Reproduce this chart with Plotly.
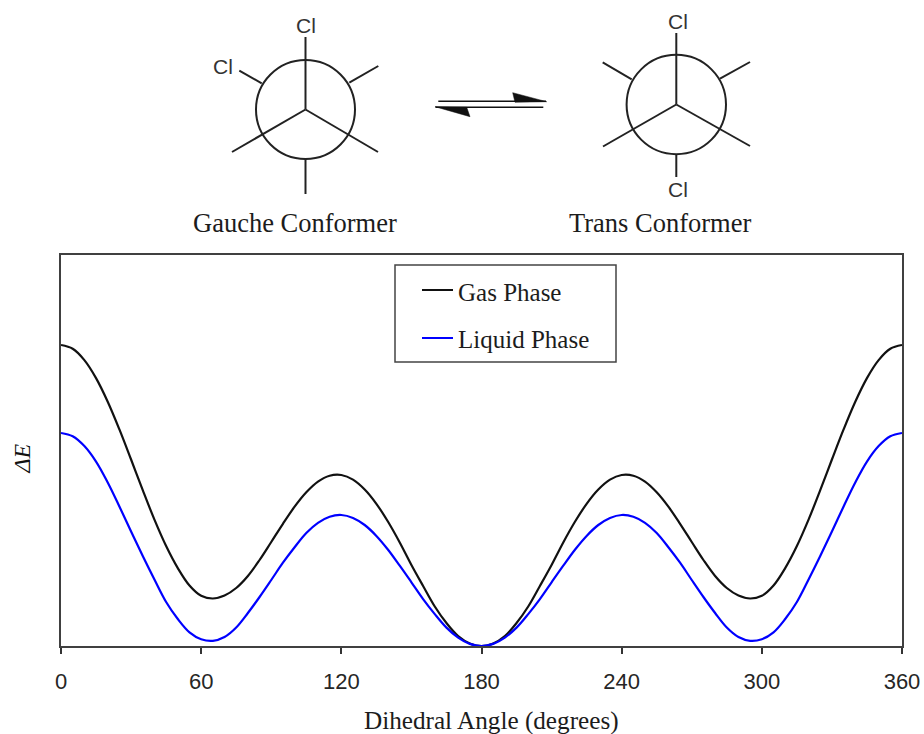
import plotly.graph_objects as go

W, H = 924, 734

# ---- chart data ----
angle = [0, 5, 10, 15, 20, 25, 30, 35, 40, 45, 50, 55, 60, 65, 70, 75, 80, 85, 90,
         95, 100, 105, 110, 115, 120, 125, 130, 135, 140, 145, 150, 155, 160, 165, 170, 175, 180,
         185, 190, 195, 200, 205, 210, 215, 220, 225, 230, 235, 240, 245, 250, 255, 260, 265, 270,
         275, 280, 285, 290, 295, 300, 305, 310, 315, 320, 325, 330, 335, 340, 345, 350, 355, 360]
gas_energy = [301, 297.2, 285.9, 267.9, 244.3, 216.6, 186.5, 155.8, 126.4, 100, 77.9, 60.5, 50.2, 47.5, 50.5, 58, 70, 86, 104,
              122.2, 139.3, 153.7, 164.4, 170.3, 171, 166.4, 156.5, 142.2, 124.2, 103.5, 81, 60, 39.5, 23, 10, 2.6, 0,
              2.6, 10, 23, 39.5, 60, 81, 103.5, 124.2, 142.2, 156.5, 166.4, 171, 170.3, 164.4, 153.7, 139.3, 122.2, 104,
              86, 70, 58, 50.5, 47.5, 50.2, 60.5, 77.9, 100, 126.4, 155.8, 186.5, 216.6, 244.3, 267.9, 285.9, 297.2, 301]
liquid_energy = [213, 209.7, 199.9, 184.4, 163.5, 139.5, 114.5, 90, 66.5, 44, 27, 13.7, 6.8, 5.2, 9, 18.5, 33, 49, 66,
                 83.3, 98.8, 113, 123.2, 129.3, 131, 128.1, 121, 110.1, 96.3, 80.3, 63.7, 46.9, 31.9, 18.4, 8.4, 2.1, 0,
                 2.1, 8.4, 18.4, 31.9, 46.9, 63.7, 80.3, 96.3, 110.1, 121, 128.1, 131, 129.3, 123.2, 113, 98.8, 83.3, 66,
                 49, 33, 18.5, 9, 5.2, 6.8, 13.7, 27, 44, 66.5, 90, 114.5, 139.5, 163.5, 184.4, 199.9, 209.7, 213]
tick_values = [0, 60, 120, 180, 240, 300, 360]
series_names = ["Gas Phase", "Liquid Phase"]
series_colors = ["#111111", "#0000ff"]

# ---- page layout, in pixels of the picture ----
PLOT_L, PLOT_R, PLOT_T, PLOT_B = 61, 902, 255, 646
SERIF = "Liberation Serif"
SANS = "Liberation Sans"
INK = "#1c1c1c"


def px(x):
    return x / W


def py(y):
    return 1 - y / H


def seg(x0, y0, x1, y1, color="#222222", width=2):
    return dict(type="line", xref="paper", yref="paper", x0=px(x0), y0=py(y0), x1=px(x1), y1=py(y1),
                line=dict(color=color, width=width), layer="above")


def note(x, y, text, size, family=SERIF, color=INK, angle=0, anchor="center"):
    return dict(xref="paper", yref="paper", x=px(x), y=py(y), text=text, showarrow=False, textangle=angle,
                xanchor=anchor, yanchor="middle", font=dict(family=family, size=size, color=color))


def newman(cx, cy, r, spokes, stubs):
    out = [dict(type="circle", xref="paper", yref="paper", x0=px(cx - r), x1=px(cx + r),
                y0=py(cy + r), y1=py(cy - r), line=dict(color="#222222", width=2))]
    for (x, y) in spokes:
        out.append(seg(cx, cy, x, y))
    for (a, b, c, d) in stubs:
        out.append(seg(a, b, c, d))
    return out


def triangle(pts):
    path = "M " + " L ".join(f"{px(x):.5f},{py(y):.5f}" for x, y in pts) + " Z"
    return dict(type="path", xref="paper", yref="paper", path=path, fillcolor="#111111",
                line=dict(color="#111111", width=0.5))


shapes = []
shapes += newman(305.5, 109.5, 49.5,
                 [(305.5, 37), (232, 152), (378, 152)],
                 [(305.5, 159, 305.5, 194), (261.7, 83.3, 239.3, 70.7), (349.3, 82.7, 378.3, 66)])
shapes += newman(676.3, 104.5, 49.7,
                 [(676.3, 33), (603, 146.5), (750, 146)],
                 [(676.3, 154, 676.3, 177), (631.7, 79.3, 602.7, 62.3), (720, 78.7, 750, 62)])
# equilibrium arrows
shapes += [seg(438.3, 101.3, 546, 101.3, "#111111", 1.5), seg(435.5, 107.3, 543.3, 107.3, "#111111", 1.5),
           triangle([(512.7, 92.7), (546.7, 101.7), (515, 102.3)]),
           triangle([(435, 106.7), (470, 116.7), (466.7, 107.3)])]
# legend box
LEG = (395, 265, 616, 362)
shapes.append(dict(type="rect", xref="paper", yref="paper", x0=px(LEG[0]), x1=px(LEG[2]),
                   y0=py(LEG[3]), y1=py(LEG[1]), line=dict(color="#444444", width=1.5),
                   fillcolor="white", layer="above"))
shapes += [seg(422, 290, 453, 290, series_colors[0], 2), seg(422, 338, 453, 338, series_colors[1], 2)]

annotations = [
    note(306, 26, "Cl", 21, SANS, "#333333"),
    note(223, 67, "Cl", 21, SANS, "#333333"),
    note(678, 21, "Cl", 21, SANS, "#333333"),
    note(678, 189, "Cl", 21, SANS, "#333333"),
    note(295, 223, "Gauche Conformer", 26.5),
    note(659.5, 223, "Trans Conformer", 26.5),
    note(456, 292, series_names[0], 25, anchor="left"),
    note(456, 340, series_names[1], 25, anchor="left"),
    note(492, 721, "Dihedral Angle (degrees)", 25.2),
    note(21.5, 459, "<i>ΔE</i>", 24, color="#111111", angle=-90),
]

fig = go.Figure()
fig.add_trace(go.Scatter(x=angle, y=gas_energy, mode="lines", name=series_names[0],
                         line=dict(color=series_colors[0], width=2.2, shape="spline", smoothing=1)))
fig.add_trace(go.Scatter(x=angle, y=liquid_energy, mode="lines", name=series_names[1],
                         line=dict(color=series_colors[1], width=2.2, shape="spline", smoothing=1)))

fig.update_layout(
    width=W, height=H, autosize=False, margin=dict(l=0, r=0, t=0, b=0),
    paper_bgcolor="white", plot_bgcolor="white", showlegend=False,
    shapes=shapes, annotations=annotations,
    xaxis=dict(domain=[px(PLOT_L), px(PLOT_R)], range=[0, 360], tickvals=tick_values, automargin=False,
               ticks="outside", ticklen=6, tickwidth=1.5, tickcolor="#333333", ticklabelstandoff=9,
               showgrid=False, zeroline=False, showline=True, linecolor="#404040", linewidth=2, mirror=True,
               tickfont=dict(family=SANS, size=22, color="#262626")),
    yaxis=dict(domain=[py(PLOT_B), py(PLOT_T)], range=[0, 391], showticklabels=False, ticks="", automargin=False,
               showgrid=False, zeroline=False, showline=True, linecolor="#404040", linewidth=2, mirror=True),
)

fig.write_html("out.html", config=dict(displayModeBar=False),
               post_script="document.body.style.margin='0';document.documentElement.style.overflow='hidden';")
